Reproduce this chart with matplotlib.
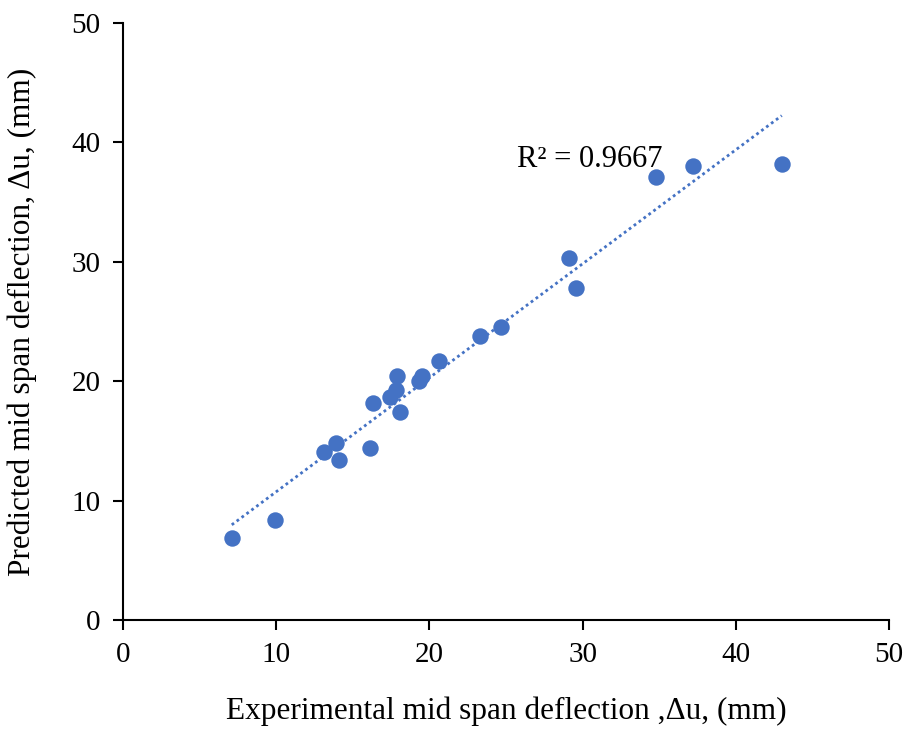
import numpy as np
import matplotlib
matplotlib.use("Agg")
import matplotlib.pyplot as plt

# experimental vs predicted mid span deflection (mm)
experimental = [7.1, 9.9, 13.1, 13.9, 14.1, 16.1, 16.3, 17.4, 17.8, 17.9, 18.1,
                19.3, 19.5, 20.6, 23.3, 24.7, 29.1, 29.6, 34.8, 37.2, 43.0]
predicted = [6.9, 8.4, 14.1, 14.8, 13.4, 14.4, 18.2, 18.7, 19.3, 20.4, 17.4,
             20.0, 20.4, 21.7, 23.8, 24.5, 30.3, 27.8, 37.1, 38.0, 38.2]
r2_label = "R² = 0.9667"

plt.rcParams["font.family"] = ["Liberation Serif", "DejaVu Serif"]

fig = plt.figure(figsize=(9.09, 7.31), dpi=100)
ax = fig.add_axes([123 / 909, 1 - 620 / 731, 766 / 909, 597 / 731])

blue = "#4472c4"
ax.scatter(experimental, predicted, s=140, color=blue, zorder=3, linewidths=0)

# linear trend line over the data range
x = np.array(experimental)
slope, icpt = np.polyfit(x, np.array(predicted), 1)
xs = np.array([x.min(), x.max()])
ax.plot(xs, slope * xs + icpt, linestyle=(0, (1, 1.2)), color=blue, linewidth=2.0, zorder=2)

ax.text(25.7, 38.6, r2_label, fontsize=22, ha="left", va="center")

ax.set_xlim(0, 50)
ax.set_ylim(0, 50)
ax.set_xticks(range(0, 51, 10))
ax.set_yticks(range(0, 51, 10))
ax.tick_params(labelsize=21, length=7, width=1.5, direction="out", pad=9)
for side in ["top", "right"]:
    ax.spines[side].set_visible(False)
for side in ["left", "bottom"]:
    ax.spines[side].set_linewidth(1.5)

ax.set_xlabel("Experimental mid span deflection ,\u0394u, (mm)", fontsize=22.5)
ax.set_ylabel("Predicted mid span deflection, \u0394u, (mm)", fontsize=22.5)
ax.xaxis.set_label_coords(0.5, -0.128)
ax.yaxis.set_label_coords(-0.112, 0.5)

fig.savefig("out.png", dpi=100)
